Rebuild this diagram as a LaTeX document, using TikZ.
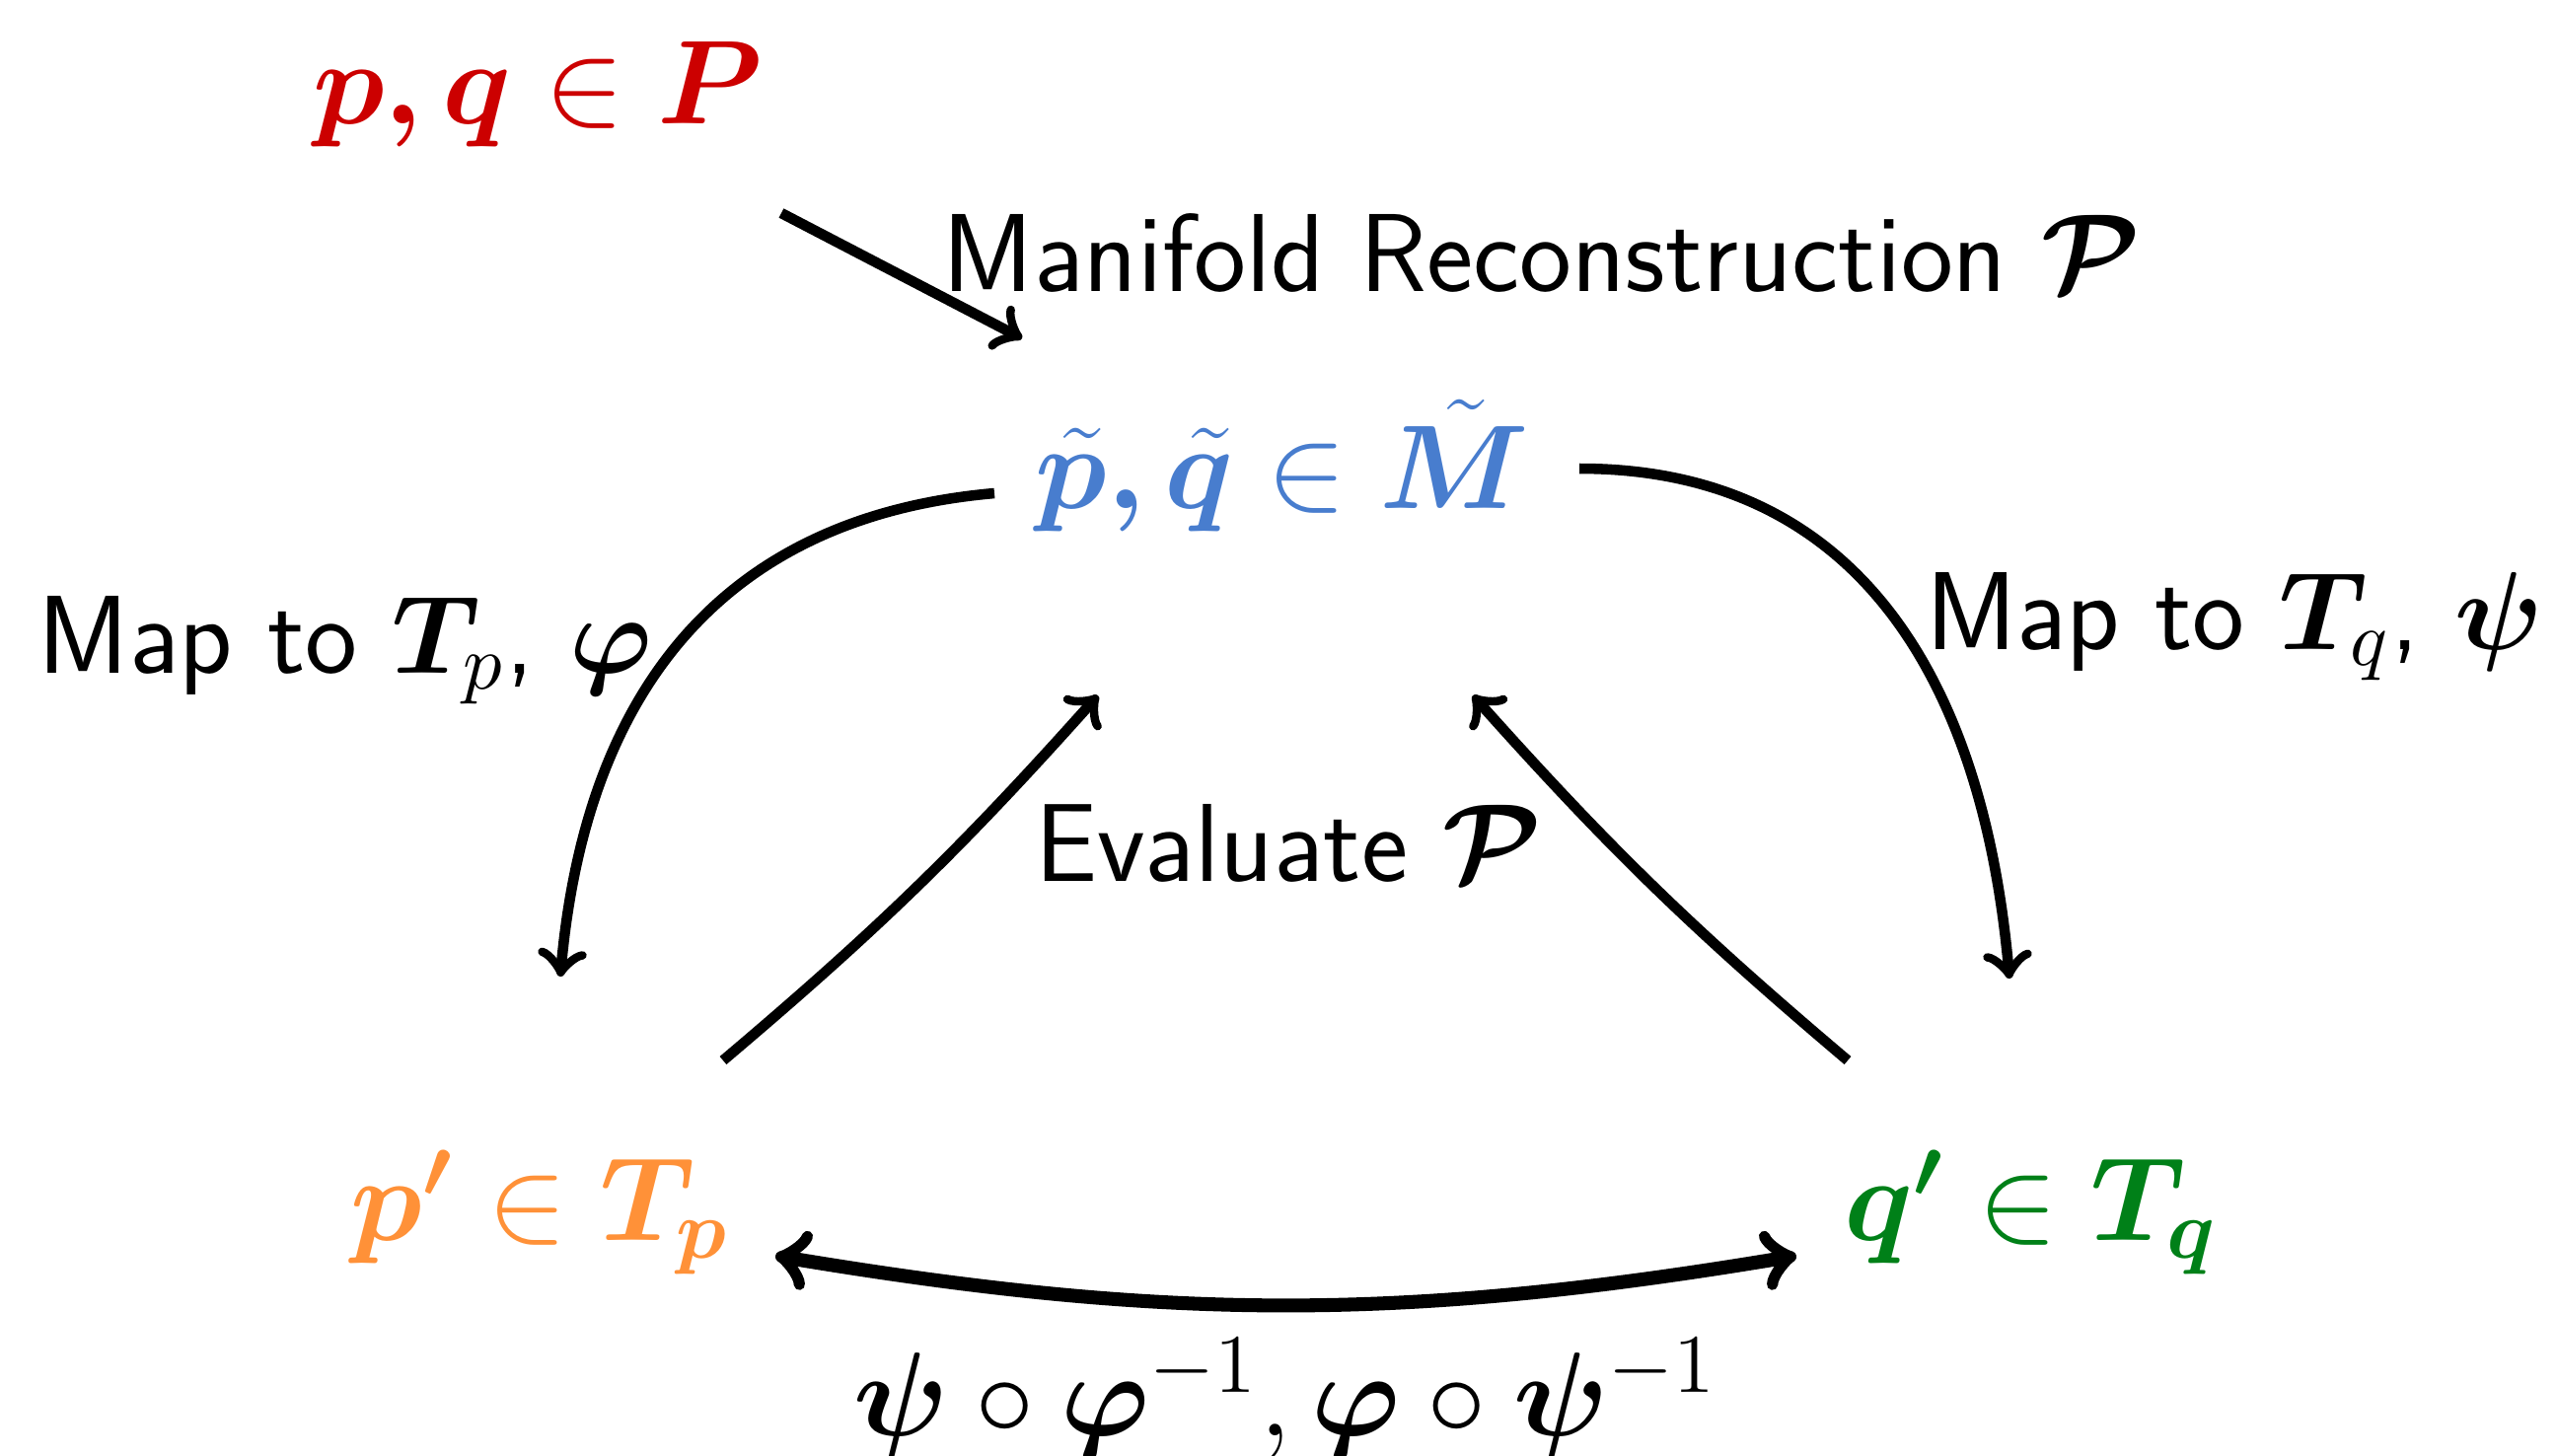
\RequirePackage{fix-cm}
\documentclass[tikz,border=0pt]{standalone}
\usepackage{amsmath,bm}
\usetikzlibrary{positioning,arrows.meta,calc}

\definecolor{setred}{RGB}{204,0,0}
\definecolor{setblue}{RGB}{72,125,206}
\definecolor{setorange}{RGB}{255,145,56}
\definecolor{setgreen}{RGB}{0,128,24}

\tikzset{
  lbl/.style={anchor=base,inner sep=0pt},
  setlbl/.style={lbl,font=\fontsize{17.2}{20}\selectfont},
  maparrow/.style={->,line width=1.5pt},
}

\begin{document}
\begin{tikzpicture}[>=to,font=\fontsize{16}{19}\selectfont\sffamily]
  \useasboundingbox (0,0) rectangle (12.955,7.375);
  % the sets
  \node[setlbl,text=setred] (pq) at (2.725,6.75) {$\bm{p,q}\in\bm{P}$};
  \node[setlbl,text=setblue] (Mt) at (6.5,4.8) {$\tilde{\bm{p}}\bm{,}\tilde{\bm{q}}\in\tilde{\bm{M}}$};
  \node[setlbl,text=setorange] (pp) at (2.74,1.09) {$\bm{p'}\in\bm{T_p}$};
  \node[setlbl,text=setgreen] (qp) at (10.295,1.09) {$\bm{q'}\in\bm{T_q}$};
  % labels
  \node[lbl] (recon) at (7.815,5.9) {Manifold Reconstruction $\bm{\mathcal{P}}$};
  \node[lbl] (maptp) at (1.75,3.965) {Map to $\bm{T}_p$, $\bm{\varphi}$};
  \node[lbl] (maptq) at (11.325,4.085) {Map to $\bm{T}_q$, $\bm{\psi}$};
  \node[lbl] (eval) at (6.53,2.91) {Evaluate $\bm{\mathcal{P}}$};
  \node[setlbl] (trans) at (6.515,0.1) {$\bm{\psi}\circ\bm{\varphi}^{-1},\bm{\varphi}\circ\bm{\psi}^{-1}$};
  % arrows
  \draw[maparrow] ([shift={(1.235,-0.455)}]pq.base) -- ([shift={(-1.32,0.86)}]Mt.base);
  \draw[maparrow] ([shift={(-1.46,0.075)}]Mt.base) to[out=185,in=85,looseness=1.1] ([shift={(0.1,1.335)}]pp.base);
  \draw[maparrow] ([shift={(1.505,0.2)}]Mt.base) to[out=0,in=95,looseness=1.1] ([shift={(-0.11,1.325)}]qp.base);
  \draw[maparrow] ([shift={(0.925,0.91)}]pp.base) to[bend right=4] ([shift={(-0.935,-0.95)}]Mt.base);
  \draw[maparrow] ([shift={(-0.93,0.91)}]qp.base) to[bend left=4] ([shift={(0.965,-0.95)}]Mt.base);
  \draw[<->,line width=2pt] ([shift={(1.19,-0.08)}]pp.base) to[bend right=9.5] ([shift={(-1.19,-0.08)}]qp.base);
\end{tikzpicture}
\end{document}
